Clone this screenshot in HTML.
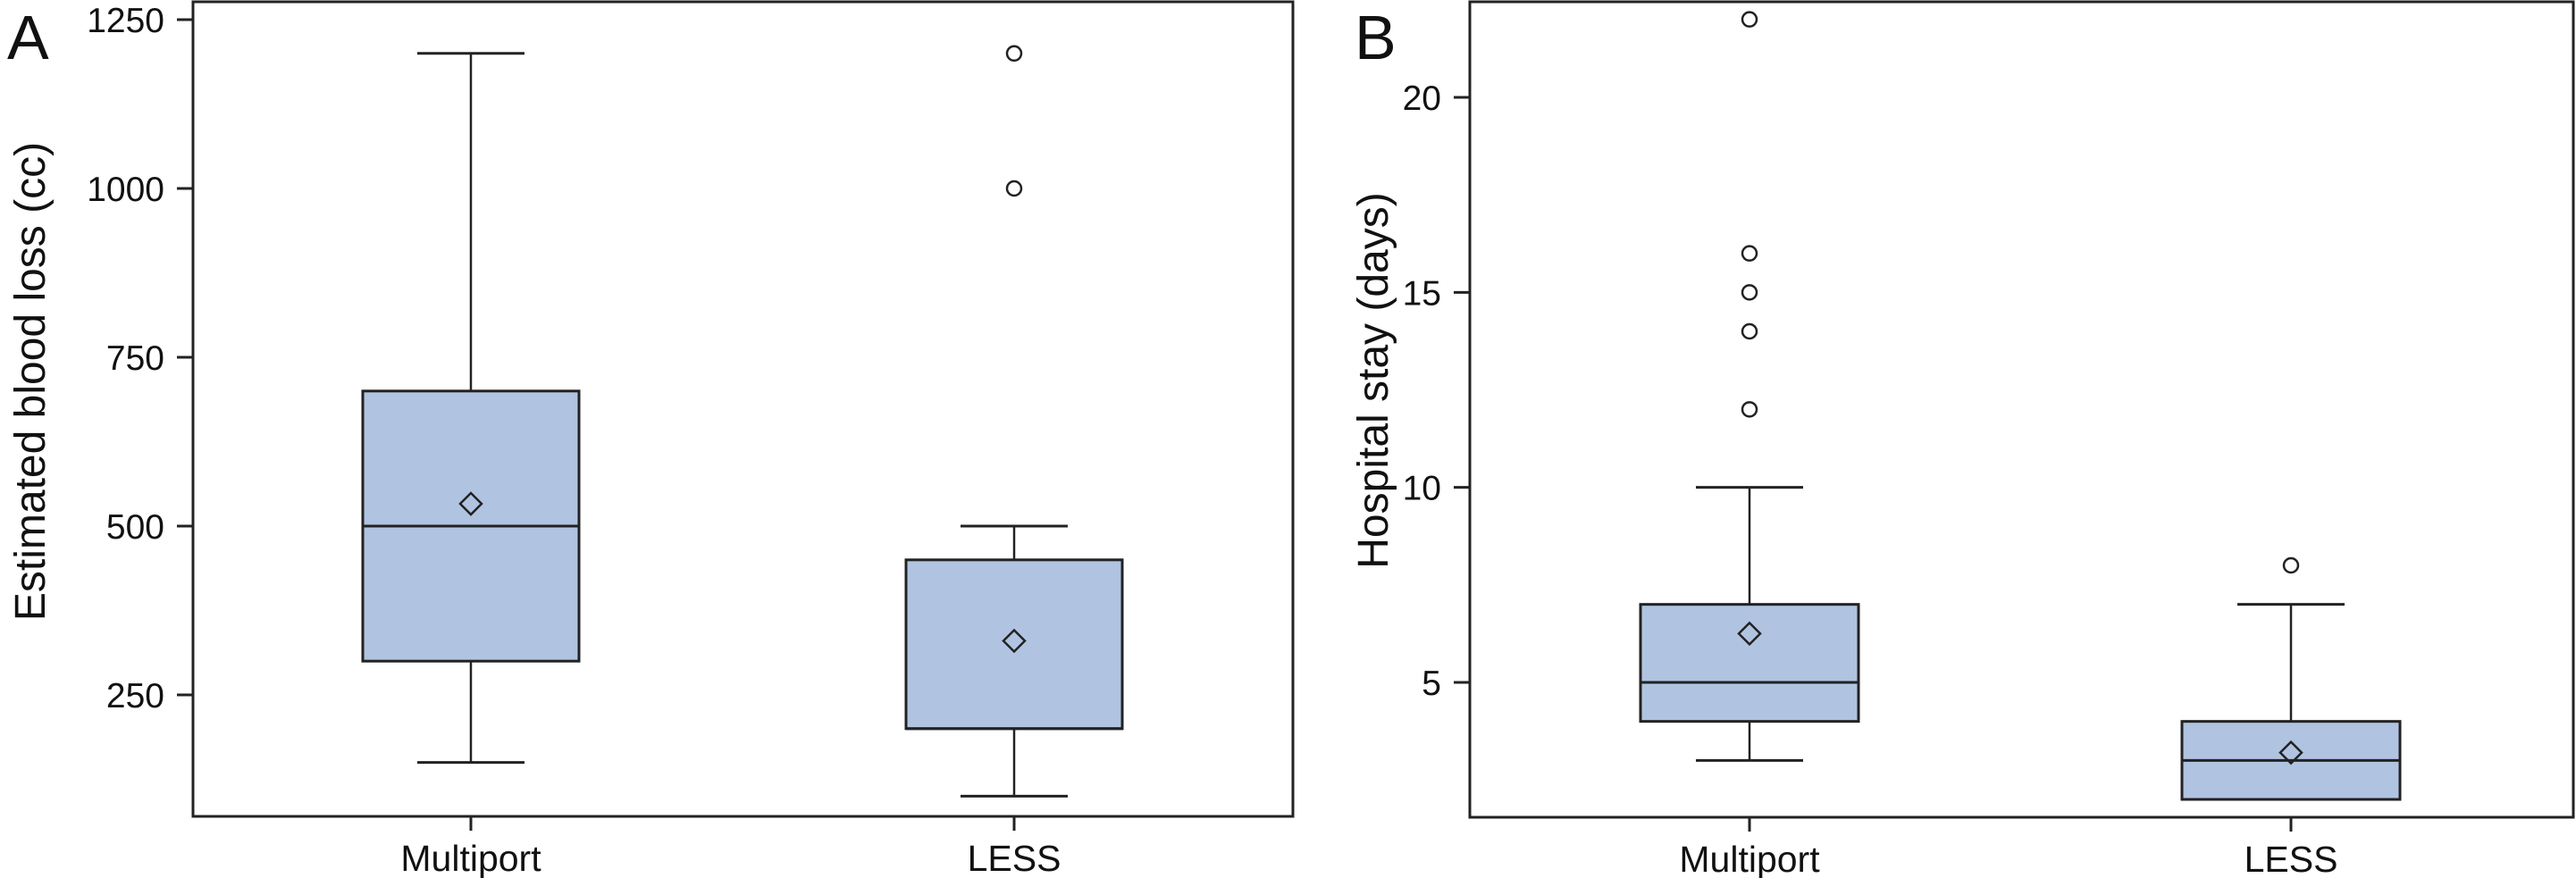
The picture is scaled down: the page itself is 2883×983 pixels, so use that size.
<!DOCTYPE html>
<html><head><meta charset="utf-8"><style>
html,body{margin:0;padding:0;background:#fff;}
svg{display:block;font-family:"Liberation Sans",sans-serif;}
</style></head><body>
<svg id="chart" width="2883" height="983" viewBox="0 0 2883 983" xmlns="http://www.w3.org/2000/svg">
<text x="8" y="66" font-size="70" fill="#111">A</text>
<text x="1516" y="66" font-size="70" fill="#111">B</text>
<text transform="translate(50,427) rotate(-90)" text-anchor="middle" font-size="48" fill="#111">Estimated blood loss (cc)</text>
<text transform="translate(1553,426) rotate(-90)" text-anchor="middle" font-size="48" fill="#111">Hospital stay (days)</text>
</svg>
<script>
const categories = ["Multiport", "LESS"];
// Panel A: estimated blood loss
const aMin = [150, 100];
const aQ1 = [300, 200];
const aMedian = [500, 200];
const aQ3 = [700, 450];
const aMax = [1200, 500];
const aMean = [533, 330];
const aOutliers = [[], [1000, 1200]];
const aTicks = [250, 500, 750, 1000, 1250];
// Panel B: hospital stay
const bMin = [3, 2];
const bQ1 = [4, 2];
const bMedian = [5, 3];
const bQ3 = [7, 4];
const bMax = [10, 7];
const bMean = [6.25, 3.2];
const bOutliers = [[12, 14, 15, 16, 22], [8]];
const bTicks = [5, 10, 15, 20];

const NS = "http://www.w3.org/2000/svg";
const svg = document.getElementById("chart");
function mk(tag, attrs, parent) {
  const e = document.createElementNS(NS, tag);
  for (const k in attrs) e.setAttribute(k, attrs[k]);
  (parent || svg).appendChild(e);
  return e;
}
const STROKE = "#222";

function panel(p) {
  const g = mk("g", {});
  
  
  const y = v => p.y0 + (v - p.v0) * (p.y1 - p.y0) / (p.v1 - p.v0);
  const fr = mk("rect", {x: p.left, y: p.top, width: p.right - p.left, height: p.bottom - p.top, fill: "none", stroke: STROKE, "stroke-width": 3}, g);
  
  
  p.ticks.forEach(t => {
    const ty = y(t);
    const tl = mk("line", {x1: p.left - 18, x2: p.left, y1: ty, y2: ty, stroke: STROKE, "stroke-width": 3}, g);
    
    
    const tx = mk("text", {x: p.left - 32, y: ty + 14, "text-anchor": "end", "font-size": 39, fill: "#111"}, g);
    
    
    tx.textContent = t;
  });
  categories.forEach((c, i) => {
    const cx = p.cx[i];
    const hw = p.boxW / 2, cw = p.capW / 2;
    const xt = mk("line", {x1: cx, x2: cx, y1: p.bottom, y2: p.bottom + 16, stroke: STROKE, "stroke-width": 3}, g);
    
    
    const xl = mk("text", {x: cx, y: p.bottom + 61, "text-anchor": "middle", "font-size": 41, fill: "#111"}, g);
    
    
    xl.textContent = c;
    const w1 = mk("line", {x1: cx, x2: cx, y1: y(p.q3[i]), y2: y(p.max[i]), stroke: STROKE, "stroke-width": 2.5}, g);
    
    
    const w2 = mk("line", {x1: cx, x2: cx, y1: y(p.q1[i]), y2: y(p.min[i]), stroke: STROKE, "stroke-width": 2.5}, g);
    
    
    const c1 = mk("line", {x1: cx - cw, x2: cx + cw, y1: y(p.max[i]), y2: y(p.max[i]), stroke: STROKE, "stroke-width": 3}, g);
    
    
    const c2 = mk("line", {x1: cx - cw, x2: cx + cw, y1: y(p.min[i]), y2: y(p.min[i]), stroke: STROKE, "stroke-width": 3}, g);
    
    
    const bx = mk("rect", {x: cx - hw, y: y(p.q3[i]), width: p.boxW, height: y(p.q1[i]) - y(p.q3[i]), fill: "#b0c4e2", stroke: STROKE, "stroke-width": 3}, g);
    
    
    const md = mk("line", {x1: cx - hw, x2: cx + hw, y1: y(p.median[i]), y2: y(p.median[i]), stroke: STROKE, "stroke-width": 3}, g);
    
    
    const my = y(p.mean[i]);
    const dm = mk("polygon", {points: `${cx},${my-12} ${cx+12},${my} ${cx},${my+12} ${cx-12},${my}`, fill: "none", stroke: STROKE, "stroke-width": 2.5}, g);
    
    
    p.out[i].forEach(o => {
      const oc = mk("circle", {cx: cx, cy: y(o), r: 8, fill: "none", stroke: STROKE, "stroke-width": 2.5}, g);
      
      
    });
  });
}

panel({name: "blood-loss", left: 216, right: 1447, top: 2, bottom: 914, v0: 250, y0: 778, v1: 1250, y1: 22,
  cx: [527, 1135], boxW: 242, capW: 120, ticks: aTicks,
  min: aMin, q1: aQ1, median: aMedian, q3: aQ3, max: aMax, mean: aMean, out: aOutliers});
panel({name: "hospital-stay", left: 1645, right: 2880, top: 2, bottom: 915, v0: 5, y0: 764, v1: 20, y1: 109,
  cx: [1958, 2564], boxW: 244, capW: 120, ticks: bTicks,
  min: bMin, q1: bQ1, median: bMedian, q3: bQ3, max: bMax, mean: bMean, out: bOutliers});
</script>
</body></html>
